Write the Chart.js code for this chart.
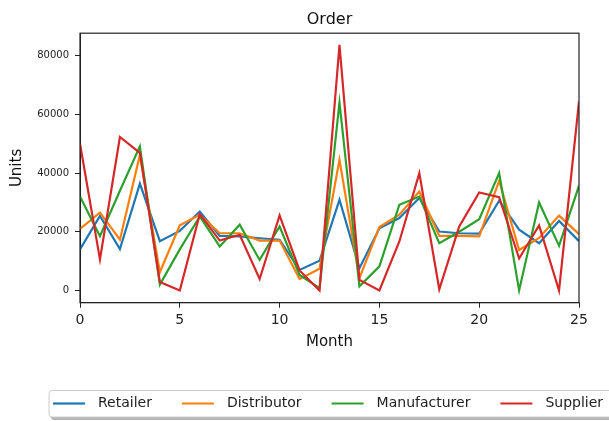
<!DOCTYPE html>
<html>
<head>
<meta charset="utf-8">
<script src="https://cdn.jsdelivr.net/npm/chart.js@4/dist/chart.umd.min.js"></script>
<style>
  html, body { margin: 0; padding: 0; background: #ffffff; }
  #wrap { width: 609px; height: 421px; position: relative; }
</style>
</head>
<body>
<div id="wrap"><canvas id="c" width="609" height="421"></canvas></div>
<script>
const months = [0,1,2,3,4,5,6,7,8,9,10,11,12,13,14,15,16,17,18,19,20,21,22,23,24,25];
const seriesNames = ["Retailer", "Distributor", "Manufacturer", "Supplier"];
const retailer     = [14000, 25400, 14100, 36400, 16800, 20300, 26900, 18600, 18400, 17800, 17300, 7000, 10100, 30900, 7600, 21200, 24700, 31500, 20100, 19500, 19400, 30600, 20700, 16100, 23700, 16800];
const distributor  = [21000, 26500, 17300, 46200, 6200, 22200, 25800, 19500, 19500, 17000, 17000, 3900, 7400, 44500, 4200, 21600, 25800, 33700, 18600, 18600, 18400, 37400, 13800, 17900, 25500, 19200];
const manufacturer = [32000, 18500, 34000, 49100, 2000, 14000, 25200, 15000, 22400, 10400, 21800, 5300, 800, 64100, 1400, 8200, 29200, 32000, 16100, 20000, 24300, 40000, 0, 30000, 15200, 35700];
const supplier     = [50000, 10600, 52300, 46900, 2900, 0, 26000, 17000, 19000, 3900, 25600, 6800, 0, 83700, 3600, 0, 16700, 40000, 400, 21800, 33400, 31800, 10900, 22200, 0, 64400];
const yTicks = [0, 20000, 40000, 60000, 80000];
const xTicks = [0, 5, 10, 15, 20, 25];
const titleText = "Order";
const xTitle = "Month";
const yTitle = "Units";

const colors = ["#1f77b4", "#ff7f0e", "#2ca02c", "#d62728"];
const allSeries = [retailer, distributor, manufacturer, supplier];
const FONT = "'DejaVu Sans', 'Liberation Sans', sans-serif";

const datasets = allSeries.map((vals, i) => ({
  label: seriesNames[i],
  data: months.map((m, j) => ({ x: m, y: vals[j] })),
  borderColor: colors[i],
  backgroundColor: colors[i],
  borderWidth: 2.2,
  pointRadius: 0,
  tension: 0,
  fill: false,
  order: allSeries.length - 1 - i
}));

const frameAndLegend = {
  id: 'frameAndLegend',
  afterDatasetsDraw(chart) {
    const { ctx, chartArea: a } = chart;
    ctx.save();
    ctx.strokeStyle = '#222';
    ctx.lineWidth = 1.2;
    ctx.strokeRect(a.left, a.top, a.right - a.left, a.bottom - a.top);
    ctx.restore();
  },
  afterDraw(chart) {
    const ctx = chart.ctx;
    ctx.save();
    const bx = 49, by = 390.5, bw = 580, bh = 26.5;
    ctx.fillStyle = 'rgba(120,120,120,0.55)';
    ctx.beginPath();
    ctx.roundRect(bx + 2, by + 3, bw, bh, 3);
    ctx.fill();
    ctx.fillStyle = '#ffffff';
    ctx.strokeStyle = '#cccccc';
    ctx.lineWidth = 1;
    ctx.beginPath();
    ctx.roundRect(bx, by, bw, bh, 3);
    ctx.fill();
    ctx.stroke();
    ctx.font = "14px " + FONT;
    ctx.textBaseline = 'middle';
    ctx.textAlign = 'left';
    let x = 53;
    const yc = 403.5;
    chart.data.datasets.forEach(ds => {
      ctx.strokeStyle = ds.borderColor;
      ctx.lineWidth = 2.2;
      ctx.beginPath();
      ctx.moveTo(x, yc);
      ctx.lineTo(x + 32, yc);
      ctx.stroke();
      ctx.fillStyle = '#222';
      ctx.fillText(ds.label, x + 45, yc);
      x = x + 45 + ctx.measureText(ds.label).width + 30;
    });
    ctx.restore();
  }
};

new Chart(document.getElementById('c'), {
  type: 'line',
  data: { datasets },
  plugins: [frameAndLegend],
  options: {
    responsive: false,
    animation: false,
    devicePixelRatio: 1,
    layout: { padding: { left: 0, right: 30, top: 0, bottom: 0 } },
    plugins: {
      legend: { display: false },
      tooltip: { enabled: false },
      title: {
        display: true,
        fullSize: false,
        text: titleText,
        color: '#111',
        font: { family: FONT, size: 16, weight: 'normal' },
        padding: { top: 10, bottom: 4 }
      }
    },
    scales: {
      x: {
        type: 'linear',
        min: 0,
        max: 25,
        afterBuildTicks: (axis) => { axis.ticks = xTicks.map(v => ({ value: v })); },
        afterFit: (axis) => { axis.height = 118.3; },
        grid: { display: true, drawOnChartArea: false, drawTicks: true, tickLength: 5, color: '#222', lineWidth: 1 },
        border: { display: true, color: '#222', width: 1 },
        ticks: { color: '#222', font: { family: FONT, size: 14 }, padding: 4, maxRotation: 0 },
        title: {
          display: true, text: xTitle, color: '#111',
          font: { family: FONT, size: 15 },
          padding: { top: 0, bottom: 70 }
        }
      },
      y: {
        type: 'linear',
        min: -4175,
        max: 87675,
        afterBuildTicks: (axis) => { axis.ticks = yTicks.map(v => ({ value: v })); },
        afterFit: (axis) => { axis.width = 80; },
        grid: { display: true, drawOnChartArea: false, drawTicks: true, tickLength: 5, color: '#222', lineWidth: 1 },
        border: { display: true, color: '#222', width: 1 },
        ticks: { color: '#222', font: { family: FONT, size: 10 }, padding: 6, callback: (v) => String(v) },
        title: {
          display: true, text: yTitle, color: '#111',
          font: { family: FONT, size: 15 },
          padding: { top: 8, bottom: 0 }
        }
      }
    }
  }
});
</script>
</body>
</html>
